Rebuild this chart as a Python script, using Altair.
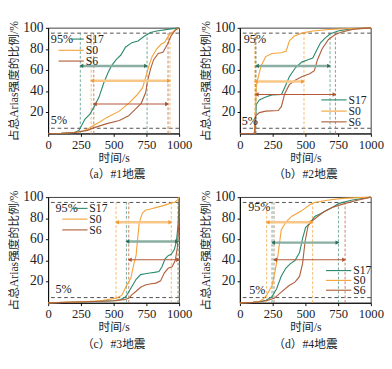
import altair as alt
import pandas as pd

SERIES = ["S17", "S0", "S6"]
LINE_COLORS = ["#2e8b6f", "#f4a43c", "#b0603c"]
VLINE_COLORS = ["#5f9c8a", "#f2b055", "#b8744e"]
ARROW_COLORS = ["#8aaea2", "#f8c787", "#b5593a"]
HEAD_COLORS = ["#2b6f5c", "#f29a35", "#b0502c"]
ARROW_WIDTHS = [2.6, 2.6, 1.2]

# ---- panel (a) #1 ----
A_S17_T = [0, 100, 200, 235, 250, 281, 317, 352, 388, 424, 459, 483, 519, 555, 590, 638, 686, 733, 781, 829, 924, 1000]
A_S17_V = [0, 0.3, 1, 3, 6.5, 13.8, 18.1, 25.7, 34.5, 47.8, 58.2, 64, 70, 74.3, 81.7, 86, 87.6, 92, 95.6, 97, 98.8, 100]
A_S0_T = [0, 100, 200, 250, 300, 329, 400, 448, 543, 614, 674, 721, 745, 769, 793, 829, 864, 888, 924, 971, 1000]
A_S0_V = [0, 0.3, 1, 2, 4, 6.5, 11.5, 15.3, 21.2, 28.6, 36, 43.4, 53.7, 64, 72.8, 80.2, 84.7, 86.1, 93.5, 98, 100]
A_S6_T = [0, 100, 200, 300, 352, 448, 543, 614, 662, 710, 745, 757, 781, 805, 840, 876, 912, 936, 971, 1000]
A_S6_V = [0, 0.3, 1, 3, 5.6, 9.4, 12.4, 16.8, 22.7, 28.6, 39, 49, 61, 69.9, 75.8, 77, 84.7, 92, 98, 100]
A_T5 = [245, 328, 348]
A_T95 = [755, 930, 915]
A_ARROW = [64, 50, 28]

# ---- panel (b) #2 ----
B_S17_T = [0, 100, 112, 118, 124, 148, 197, 245, 317, 341, 377, 425, 472, 520, 556, 580, 616, 652, 688, 748, 844, 1000]
B_S17_V = [0, 0, 0.5, 10, 27.2, 31.7, 34.5, 36.6, 36.9, 43.4, 53.7, 62.5, 67.6, 69.9, 71.4, 77.3, 86.1, 90.6, 94.1, 97, 99, 100]
B_S0_T = [0, 100, 110, 118, 125, 137, 161, 197, 245, 317, 353, 377, 412, 472, 556, 676, 800, 1000]
B_S0_V = [0, 0, 0.5, 20, 45, 52, 64, 72.8, 75.8, 76.4, 78, 87.6, 92, 95, 97, 98.5, 99.2, 100]
B_S6_T = [0, 100, 112, 120, 148, 197, 293, 317, 341, 377, 425, 472, 532, 568, 592, 628, 676, 724, 772, 868, 1000]
B_S6_V = [0, 0, 0.5, 16.8, 19.8, 21.2, 21.8, 25.7, 37.5, 46.3, 50.7, 53.7, 56.6, 59.5, 69.9, 80.2, 89, 93.5, 95.9, 98.8, 100]
B_T5 = [122, 113, 120]
B_T95 = [688, 489, 729]
B_ARROW = [64, 49.3, 36.9]

# ---- panel (c) #3 ----
C_S17_T = [0, 300, 500, 550, 583, 601, 636, 671, 706, 741, 776, 811, 846, 869, 893, 916, 939, 963, 979, 993, 1000]
C_S17_V = [0, 1, 2, 3, 5, 7.4, 14.8, 22.3, 26.7, 27.6, 28.2, 28.8, 29.7, 34.2, 41.6, 44.6, 46, 50.5, 58, 75.7, 99.5]
C_S0_T = [0, 250, 400, 521, 561, 596, 631, 654, 671, 683, 695, 718, 741, 788, 834, 881, 928, 963, 986, 1000]
C_S0_V = [0, 1, 2, 4.5, 7, 16, 23.5, 36.8, 45, 60.8, 75.7, 84.6, 87.6, 89, 90.6, 92, 94.1, 95, 97.1, 100]
C_S6_T = [0, 300, 500, 580, 615, 636, 671, 706, 741, 776, 823, 858, 886, 916, 946, 970, 986, 998, 1000]
C_S6_V = [0, 1, 2, 3, 4.3, 7.4, 11, 14.8, 16.9, 17.8, 18.7, 20.8, 28.2, 32.7, 34.2, 40, 52, 75.7, 98]
C_T5 = [597, 518, 615]
C_T95 = [991, 940, 1000]
C_ARROW = [58, 76.3, 40.8]

# ---- panel (d) #4 ----
D_S17_T = [0, 100, 150, 200, 245, 280, 315, 350, 385, 420, 455, 478, 501, 536, 571, 618, 664, 711, 757, 850, 1000]
D_S17_V = [0, 0.5, 1, 2.5, 5.9, 13.3, 25.2, 32.7, 37.1, 40, 47.5, 60.8, 71.2, 75.7, 81.7, 84.6, 87.6, 90.6, 94.1, 97.1, 100]
D_S0_T = [0, 100, 150, 180, 205, 245, 268, 290, 315, 350, 397, 467, 537, 571, 664, 781, 1000]
D_S0_V = [0, 0.5, 1.5, 4, 7.4, 16.3, 30, 45, 69, 76.5, 82, 86.8, 93, 95, 97.1, 98.8, 100]
D_S6_T = [0, 100, 150, 200, 261, 315, 373, 420, 455, 478, 497, 520, 548, 594, 641, 711, 804, 897, 1000]
D_S6_V = [0, 0.5, 1, 2, 4.3, 10.2, 16.1, 19.6, 25, 37, 57.8, 72.7, 77.2, 81.7, 86.1, 90.6, 94.1, 97.1, 100]
D_T5 = [245, 204, 260]
D_T95 = [752, 555, 803]
D_ARROW = [57, 76.3, 40.8]

CAPTIONS = ["（a）#1地震", "（b）#2地震", "（c）#3地震", "（d）#4地震"]
PCT_TEXT = ["95%", "5%"]
X_TICKS = [0, 250, 500, 750, 1000]
Y_TICKS = [20, 40, 60, 80, 100]
# label anchor positions in data units (t, v) for "95%" and "5%"
PCT_POS = [[(20, 89), (20, 12.4)], [(29, 89), (14, 11.5)], [(56, 89.4), (56, 12.7)], [(63, 90), (70, 12)]]
# legend: line starts, line end, text x, row ys (pixels within plot)
LEGENDS = [
    ([24, 11, 11], 38, 40, [12, 24, 35.5]),
    ([87, 87, 87], 114, 116, [77, 89, 100.5]),
    ([25, 15, 15], 42, 44, [12, 23.5, 35]),
    ([92, 92, 92], 119, 121, [78.5, 89, 99.5]),
]

FONT = "Liberation Serif, Noto Sans CJK SC"
W, H = 140, 113
XS = alt.Scale(domain=[0, 1000], nice=False, zero=False)
YS = alt.Scale(domain=[0, 100], nice=False, zero=False)
XAX = alt.Axis(values=X_TICKS, format="d", title="时间/s",
               labelFontSize=13.5, titleFontSize=12.5, titleFontWeight="normal", titlePadding=1,
               labelFlush=False, labelOverlap=False)
YAX = alt.Axis(values=Y_TICKS, labels=False, title="占总Arias强度的比例/%",
               titleFontSize=12.5, titleFontWeight="normal", titlePadding=26)


def X(f):
    return alt.X(f, scale=XS, axis=XAX)


def Y(f):
    return alt.Y(f, scale=YS, axis=YAX)


def build(curves, t5, t95, arrow_v, pct, leg, caption):
    rows = []
    for s, (tt, vv), col in zip(SERIES, curves, LINE_COLORS):
        for t, v in zip(tt, vv):
            rows.append({"s": s, "t": t, "v": v, "c": col})
    cdf = pd.DataFrame(rows)
    lines = alt.Chart(cdf).mark_line(strokeWidth=1.2).encode(
        x=X("t:Q"), y=Y("v:Q"),
        color=alt.Color("c:N", scale=None),
        detail="s:N",
        order="t:Q",
    )
    ref = alt.Chart(pd.DataFrame({"v": [5, 95]})).mark_rule(
        color="#333333", strokeDash=[4, 3], strokeWidth=0.9).encode(y=Y("v:Q"))

    ylab = alt.Chart(pd.DataFrame({"v": Y_TICKS})).mark_text(
        align="right", baseline="middle", fontSize=14.5, font=FONT, color="#222222").encode(
        x=alt.value(-5), y=Y("v:Q"), text=alt.Text("v:Q", format="d"))

    vrows = []
    for i in range(3):
        for t in (t5[i], t95[i]):
            vrows.append({"t": t, "y0": 0, "y1": 95, "c": VLINE_COLORS[i]})
    vl = alt.Chart(pd.DataFrame(vrows)).mark_rule(strokeDash=[3, 2], strokeWidth=0.9).encode(
        x=X("t:Q"), y=Y("y0:Q"), y2="y1:Q", color=alt.Color("c:N", scale=None))

    arows, hrows = [], []
    for i in range(3):
        arows.append({"t0": t5[i], "t1": t95[i], "v": arrow_v[i], "c": ARROW_COLORS[i], "w": ARROW_WIDTHS[i]})
        hrows.append({"t": t5[i] + 8, "v": arrow_v[i], "shape": "triangle-left", "c": HEAD_COLORS[i]})
        hrows.append({"t": t95[i] - 8, "v": arrow_v[i], "shape": "triangle-right", "c": HEAD_COLORS[i]})
    ar = alt.Chart(pd.DataFrame(arows)).mark_rule().encode(
        x=X("t0:Q"), x2="t1:Q", y=Y("v:Q"), color=alt.Color("c:N", scale=None),
        strokeWidth=alt.StrokeWidth("w:Q", scale=None))
    hd = alt.Chart(pd.DataFrame(hrows)).mark_point(filled=True, size=22, opacity=1).encode(
        x=X("t:Q"), y=Y("v:Q"), shape=alt.Shape("shape:N", scale=None),
        color=alt.Color("c:N", scale=None))

    pdf = pd.DataFrame({"t": [p[0] for p in pct], "v": [p[1] for p in pct], "txt": PCT_TEXT})
    pt = alt.Chart(pdf).mark_text(align="left", baseline="middle", fontSize=13, font=FONT,
                                  color="#222222").encode(x=X("t:Q"), y=Y("v:Q"), text="txt:N")

    layers = [ref, vl, lines, ar, hd, pt, ylab]
    x1s, x2, xt, ys = leg
    one = pd.DataFrame({"a": [0]})
    for i in range(3):
        layers.append(alt.Chart(one).mark_rule(color=LINE_COLORS[i], strokeWidth=1.2).encode(
            x=alt.value(x1s[i]), x2=alt.value(x2), y=alt.value(ys[i])))
        layers.append(alt.Chart(one).mark_text(align="left", baseline="middle", fontSize=12.5,
                                               font=FONT, color="#222222").encode(
            x=alt.value(xt), y=alt.value(ys[i]), text=alt.value(SERIES[i])))
    return alt.layer(*layers).properties(
        width=W, height=H,
        title=alt.TitleParams(caption, orient="bottom", fontSize=12.5, font=FONT,
                              fontWeight="normal", offset=6, color="#222222"))


pa = build([(A_S17_T, A_S17_V), (A_S0_T, A_S0_V), (A_S6_T, A_S6_V)], A_T5, A_T95, A_ARROW, PCT_POS[0], LEGENDS[0], CAPTIONS[0])
pb = build([(B_S17_T, B_S17_V), (B_S0_T, B_S0_V), (B_S6_T, B_S6_V)], B_T5, B_T95, B_ARROW, PCT_POS[1], LEGENDS[1], CAPTIONS[1])
pc = build([(C_S17_T, C_S17_V), (C_S0_T, C_S0_V), (C_S6_T, C_S6_V)], C_T5, C_T95, C_ARROW, PCT_POS[2], LEGENDS[2], CAPTIONS[2])
pd_ = build([(D_S17_T, D_S17_V), (D_S0_T, D_S0_V), (D_S6_T, D_S6_V)], D_T5, D_T95, D_ARROW, PCT_POS[3], LEGENDS[3], CAPTIONS[3])

chart = alt.concat(pa, pb, pc, pd_, columns=2, spacing=8).properties(
    padding={"left": 0, "top": 0, "right": 0, "bottom": 0}
).configure_view(stroke="black", strokeWidth=0.8).configure_axis(
    grid=False, domainColor="black", tickColor="black", labelColor="#222222", titleColor="#222222",
    labelFont=FONT, titleFont=FONT, tickSize=3, labelPadding=2
).configure_title(font=FONT)

chart.save("out.html", embed_options={"renderer": "svg", "actions": False})
